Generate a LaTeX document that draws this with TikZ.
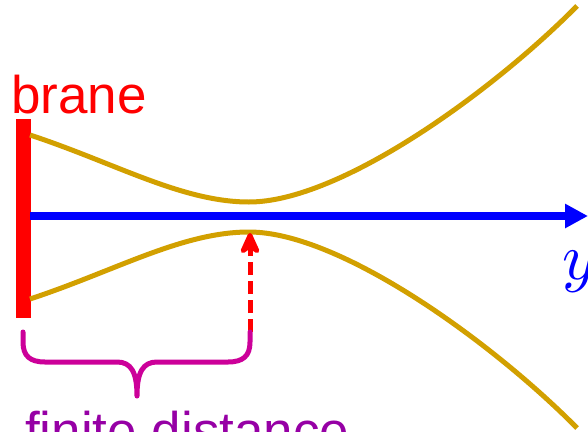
\documentclass[tikz,border=0pt]{standalone}
\usepackage{fontspec}
\setmainfont{Liberation Sans}
\usetikzlibrary{arrows.meta}
\definecolor{gold}{RGB}{210,160,0}
\definecolor{bracecol}{RGB}{204,0,153}
\definecolor{textpurple}{RGB}{150,0,165}
\tikzset{
  curve/.style={draw=gold, line width=5pt},
  lbl/.style={inner sep=0pt, anchor=base west},
}
\begin{document}
\begin{tikzpicture}[x=1pt,y=-1pt]
\useasboundingbox (0,0) rectangle (588,431);
% brane bar
\fill[red] (16,119) rectangle (31,318);
\coordinate (b0) at (30,216);
\coordinate (yend) at (588,216);
\node[lbl, text=red, font=\fontsize{53}{60}\selectfont] (branelbl) at (11,113) {brane};
% curves
\coordinate (u0) at (30,135);
\coordinate (um) at (249,202);
\coordinate (u1) at (577,6);
\coordinate (l0) at (30,299);
\coordinate (lm) at (249,232);
\coordinate (l1) at (577,428);
\draw[curve] (u0) .. controls (115,163) and (182,202) .. (um)
  .. controls (340,202) and (492,92) .. (u1);
\draw[curve] (l0) .. controls (115,271) and (182,232) .. (lm)
  .. controls (340,232) and (492,342) .. (l1);
% y axis arrow
\draw[blue, line width=7.5pt, -{Triangle[length=23pt,width=23pt]}] (b0) -- (yend);
\node[lbl, text=blue, scale=6.6] (ylbl) at (561,279) {$y$};
% dashed arrow
\coordinate (dstart) at (250,332);
\coordinate (dend) at (250,233);
\draw[red, line width=5pt, dash pattern=on 13pt off 6pt, -{Stealth[length=28pt,width=25pt,inset=9pt,round]}] (dstart) -- (dend);
% brace
\coordinate (brL) at (23,332);
\coordinate (brR) at (250,332);
\coordinate (brT) at (137,396);
\draw[bracecol, line width=5pt, line cap=round, line join=round]
  (brL) -- (23,342) .. controls (23,356) and (30,362) .. (45,362) -- (117,362)
  .. controls (131,362) and (137,372) .. (brT)
  .. controls (137,372) and (143,362) .. (157,362) -- (228,362)
  .. controls (243,362) and (250,356) .. (250,342) -- (brR);
\node[lbl, text=textpurple, font=\fontsize{53}{60}\selectfont] (fd) at (25,449) {finite distance};
\end{tikzpicture}
\end{document}
